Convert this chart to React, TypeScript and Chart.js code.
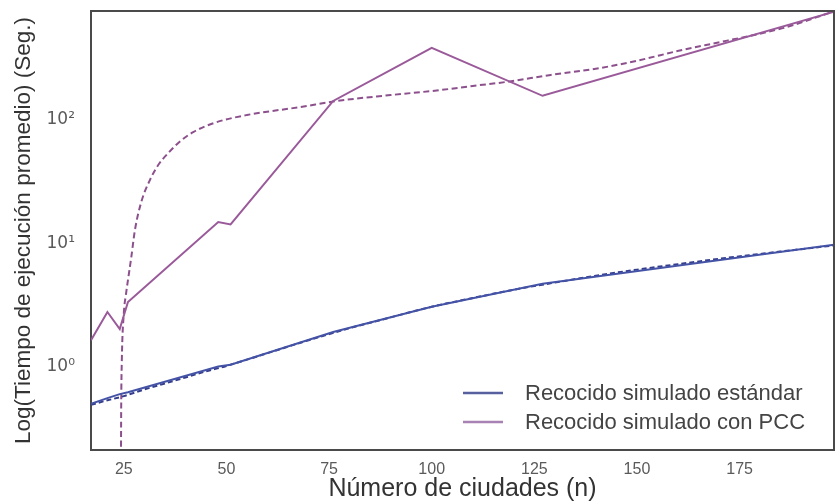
import { useEffect, useRef } from "react";
import { Chart, registerables } from "chart.js";

Chart.register(...registerables);

// ---- data ----
const xTicks = [25, 50, 75, 100, 125, 150, 175];
const yTicks = [1, 10, 100];
const yTickLabels = ["10⁰", "10¹", "10²"];

const cities = [17, 21, 24, 26, 48, 51, 76, 100, 127, 198];
const standardTimes = [0.46, 0.51, 0.55, 0.57, 0.92, 0.95, 1.75, 2.8, 4.3, 8.9];
const pccTimes = [1.5, 2.54, 1.85, 3.06, 13.6, 13.0, 130, 350, 143, 685];

const fitCitiesStd = [17, 20, 25, 30, 35, 40, 45, 50, 60, 70, 80, 90, 100, 110, 120, 130, 140, 150, 160, 170, 180, 190, 198];
const fitStd = [0.45, 0.48, 0.53, 0.6, 0.67, 0.75, 0.84, 0.93, 1.18, 1.5, 1.88, 2.3, 2.8, 3.3, 3.85, 4.4, 5.0, 5.6, 6.2, 6.85, 7.5, 8.2, 8.8];

const fitCitiesPcc = [24.25, 24.35, 24.5, 25.0, 25.5, 26.0, 26.8, 27.7, 29.3, 31.4, 33.3, 36, 38.9, 42, 46.9, 55, 68, 77, 90, 102, 110, 118, 129, 141, 150, 161, 172, 185.5, 198];
const fitPcc = [0.05, 0.4, 1.0, 2.5, 3.5, 4.6, 7, 11.7, 20, 30, 39, 50, 62, 73, 86, 100, 116, 130, 145, 159, 172, 185, 211, 240, 275, 336, 400, 505, 690];

const labelStd = "Recocido simulado estándar";
const labelPcc = "Recocido simulado con PCC";

const BLUE = "#4453a6";
const BLUE_DASH = "#343d8a";
const PURPLE = "#9a5a9a";
const PURPLE_DASH = "#8c508c";
const FONT = "'Liberation Sans', Arial, sans-serif";

const toPts = (xs: number[], ys: number[]) => xs.map((x, i) => ({ x, y: ys[i] }));

const framePlugin = {
  id: "frame",
  afterDraw(chart: any) {
    const { ctx, chartArea } = chart;
    ctx.save();
    ctx.strokeStyle = "#4a4a4a";
    ctx.lineWidth = 2;
    ctx.beginPath();
    ctx.moveTo(chartArea.left, chartArea.top);
    ctx.lineTo(chartArea.right, chartArea.top);
    ctx.lineTo(chartArea.right, chartArea.bottom);
    ctx.stroke();
    ctx.restore();
  },
};

const legendPlugin = {
  id: "insideLegend",
  afterDraw(chart: any) {
    const { ctx, chartArea } = chart;
    const items = chart.data.datasets.filter((d: any) => d.showInLegend);
    ctx.save();
    ctx.font = `22px ${FONT}`;
    ctx.textBaseline = "middle";
    const textX = chartArea.right - 309;
    items.forEach((d: any, i: number) => {
      const y = chartArea.bottom - 57 + i * 29;
      ctx.strokeStyle = d.legendColor;
      ctx.lineWidth = 2.5;
      ctx.beginPath();
      ctx.moveTo(textX - 62, y);
      ctx.lineTo(textX - 22, y);
      ctx.stroke();
      ctx.fillStyle = "#444";
      ctx.fillText(d.label, textX, y + 1);
    });
    ctx.restore();
  },
};

export default function App() {
  const ref = useRef<HTMLCanvasElement>(null);

  useEffect(() => {
    document.body.style.margin = "0";
    if (!ref.current) return;
    Chart.defaults.font.family = FONT;
    const chart = new Chart(ref.current, {
      type: "line",
      data: {
        datasets: [
          {
            label: labelStd,
            data: toPts(cities, standardTimes),
            borderColor: BLUE,
            borderWidth: 2,
            pointRadius: 0,
            fill: false,
            showInLegend: true,
            legendColor: "#56609e",
          } as any,
          {
            label: labelPcc,
            data: toPts(cities, pccTimes),
            borderColor: PURPLE,
            borderWidth: 2,
            pointRadius: 0,
            fill: false,
            showInLegend: true,
            legendColor: "#a882b4",
          } as any,
          {
            label: "Ajuste estándar",
            data: toPts(fitCitiesStd, fitStd),
            borderColor: BLUE_DASH,
            borderWidth: 2,
            borderDash: [5, 3],
            pointRadius: 0,
            fill: false,
            cubicInterpolationMode: "monotone",
          } as any,
          {
            label: "Ajuste PCC",
            data: toPts(fitCitiesPcc, fitPcc),
            borderColor: PURPLE_DASH,
            borderWidth: 2,
            borderDash: [6, 3.5],
            pointRadius: 0,
            fill: false,
            cubicInterpolationMode: "monotone",
          } as any,
        ],
      },
      options: {
        responsive: false,
        animation: false,
        layout: { padding: { top: 11, right: 1, left: 0, bottom: 0 } },
        plugins: {
          legend: { display: false },
          tooltip: { enabled: false },
        },
        scales: {
          x: {
            type: "linear",
            min: 17,
            max: 198,
            grid: { display: false },
            border: { display: true, color: "#4a4a4a", width: 2 },
            afterBuildTicks: (s: any) => {
              s.ticks = xTicks.map((v) => ({ value: v }));
            },
            afterFit: (s: any) => {
              s.height = 54;
              s.paddingLeft = 0;
              s.paddingRight = 0;
            },
            ticks: {
              color: "#5a5a5a",
              font: { size: 16 },
              padding: 2,
              maxRotation: 0,
              callback: (v: any) => String(v),
            },
            title: {
              display: true,
              text: "Número de ciudades (n)",
              color: "#333",
              font: { size: 25 },
              padding: { top: 0, bottom: 0 },
            },
          },
          y: {
            type: "logarithmic",
            min: 0.194,
            max: 695,
            grid: { display: false },
            border: { display: true, color: "#4a4a4a", width: 2 },
            afterBuildTicks: (s: any) => {
              s.ticks = yTicks.map((v) => ({ value: v }));
            },
            afterFit: (s: any) => {
              s.width = 91;
              s.paddingTop = 0;
              s.paddingBottom = 0;
            },
            ticks: {
              color: "#5a5a5a",
              font: { size: 17, family: "'DejaVu Sans', sans-serif" },
              padding: 8,
              labelOffset: 5,
              callback: (v: any) => {
                const i = yTicks.indexOf(Number(v));
                return i >= 0 ? yTickLabels[i] : "";
              },
            },
            title: {
              display: true,
              text: "Log(Tiempo de ejecución promedio) (Seg.)",
              color: "#333",
              font: { size: 22.5 },
              padding: { top: 10, bottom: 0 },
            },
          },
        },
      } as any,
      plugins: [framePlugin, legendPlugin],
    });
    return () => chart.destroy();
  }, []);

  return (
    <div style={{ width: 835, height: 504 }}>
      <canvas ref={ref} width={835} height={504} />
    </div>
  );
}
